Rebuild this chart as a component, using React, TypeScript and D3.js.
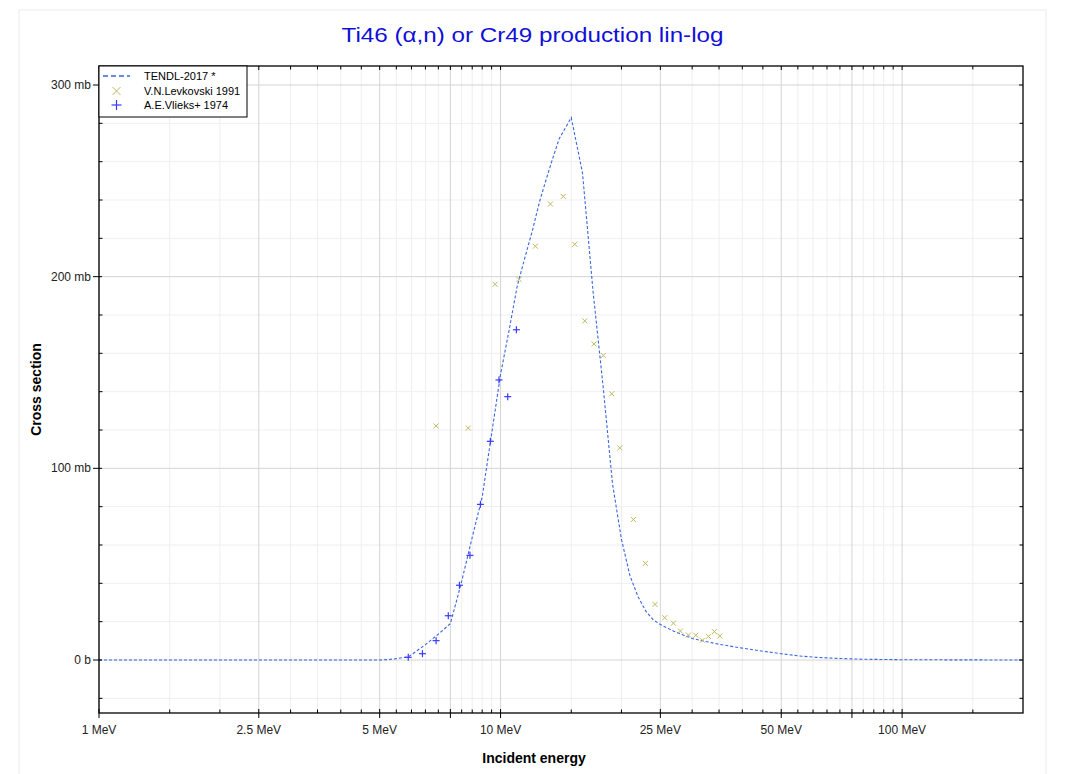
import React from "react";
import * as d3 from "d3";

// ---- data ----
const TENDL_E = [1, 5, 5.25, 5.5, 5.9, 6.5, 7, 7.5, 7.75, 8, 8.5, 9, 9.5, 10, 10.5, 11, 11.5, 12, 12.5, 13, 13.5, 14, 15, 16, 17, 18, 19, 20, 21, 22, 23, 24, 25, 27, 30, 35, 40, 45, 50, 55, 60, 70, 80, 100, 150, 200];
const TENDL_XS = [0, 0, 0.2, 0.7, 1.7, 8, 13.5, 19, 30, 41, 64, 85, 118, 149, 172, 195, 210, 224, 239, 251, 262, 272, 283, 254, 192, 143, 92, 63, 44, 33, 25.5, 21, 18.5, 15, 11.2, 8.2, 6.2, 4.6, 3.3, 2.2, 1.5, 0.8, 0.4, 0.15, 0.05, 0];

const LEV_E = [6.91, 8.31, 9.69, 11.12, 12.21, 13.31, 14.33, 15.3, 16.21, 17.09, 18.03, 18.92, 19.81, 21.42, 22.95, 24.25, 25.64, 26.94, 28.04, 29.36, 30.63, 31.81, 32.93, 34.08, 35.15];
const LEV_XS = [122.1, 121.0, 196.0, 198.6, 215.9, 237.9, 241.9, 216.9, 176.9, 164.9, 158.9, 138.9, 110.7, 73.3, 50.4, 29.0, 22.1, 19.2, 15.1, 13.0, 12.9, 10.3, 12.3, 14.8, 12.5];

const VLI_E = [5.89, 6.39, 6.91, 7.41, 7.9, 8.39, 8.91, 9.43, 9.91, 10.42, 10.95];
const VLI_XS = [1.4, 3.3, 10.1, 23.1, 39.0, 54.6, 81.2, 114.1, 146.1, 137.4, 172.3];

const X_MAJOR = [1, 2.5, 5, 10, 25, 50, 100];
const X_MAJOR_LABELS = ["1 MeV", "2.5 MeV", "5 MeV", "10 MeV", "25 MeV", "50 MeV", "100 MeV"];
const X_MID = [7.5, 75];
const X_MINOR = [1.5, 2, 3, 3.5, 4, 4.5, 5.5, 6, 6.5, 7, 8, 8.5, 9, 9.5, 15, 20, 30, 35, 40, 45, 55, 60, 65, 70, 80, 85, 90, 95, 150];
const Y_MAJOR = [0, 100, 200, 300];
const Y_MAJOR_LABELS = ["0 b", "100 mb", "200 mb", "300 mb"];
const Y_MINOR = [-20, 20, 40, 60, 80, 120, 140, 160, 180, 220, 240, 260, 280];

const LEGEND = ["TENDL-2017 *", "V.N.Levkovski 1991", "A.E.Vlieks+ 1974"];

// ---- layout ----
const W = 1071, H = 774;
const L = 99, R = 1023, T = 66, B = 713;
const FONT = "'Liberation Sans', Arial, Helvetica, sans-serif";
const LINE_C = "#3a66e0";
const LEV_C = "#bfb860";
const VLI_C = "#3a3aff";

export default function App() {
  const x = d3.scaleLog().domain([1, 200]).range([L, R]);
  const y = d3.scaleLinear().domain([0, 300]).range([660, 85]);

  const tendl = TENDL_E.map((e, i) => [e, TENDL_XS[i]] as [number, number]);
  const lineGen = d3.line<[number, number]>().x(d => x(d[0])).y(d => y(d[1]));

  const xCross = (cx: number, cy: number, s: number, c: string, k: string) => (
    <g key={k} stroke={c} strokeWidth={1}>
      <line x1={cx - s} y1={cy - s} x2={cx + s} y2={cy + s} />
      <line x1={cx - s} y1={cy + s} x2={cx + s} y2={cy - s} />
    </g>
  );
  const plus = (cx: number, cy: number, s: number, c: string, k: string) => (
    <g key={k} stroke={c} strokeWidth={1.2}>
      <line x1={cx - s} y1={cy} x2={cx + s} y2={cy} />
      <line x1={cx} y1={cy - s} x2={cx} y2={cy + s} />
    </g>
  );

  return (
    <svg width={W} height={H} style={{ position: "absolute", left: 0, top: 0, background: "#fff" }} fontFamily={FONT}>
      <defs>
        <clipPath id="plot">
          <rect x={L} y={T} width={R - L} height={B - T} />
        </clipPath>
      </defs>
      <rect x={19} y={10} width={1027} height={800} fill="#fff" stroke="#ececec" />

      <text x={532.5} y={42} textAnchor="middle" fontSize={21} fill="#1010d8" textLength={382} lengthAdjust="spacingAndGlyphs">Ti46 (α,n) or Cr49 production lin-log</text>

      {/* grid */}
      <g>
        {X_MINOR.map(v => <line key={"gx" + v} x1={x(v)} x2={x(v)} y1={T} y2={B} stroke="#efefef" />)}
        {Y_MINOR.map(v => <line key={"gy" + v} x1={L} x2={R} y1={y(v)} y2={y(v)} stroke="#efefef" />)}
        {[...X_MAJOR, ...X_MID].map(v => <line key={"GX" + v} x1={x(v)} x2={x(v)} y1={T} y2={B} stroke="#d4d4d4" />)}
        {Y_MAJOR.map(v => <line key={"GY" + v} x1={L} x2={R} y1={y(v)} y2={y(v)} stroke="#d4d4d4" />)}
      </g>

      {/* data */}
      <g clipPath="url(#plot)">
        <path d={lineGen(tendl) || ""} fill="none" stroke={LINE_C} strokeWidth={1.1} strokeDasharray="3,2" />
        {LEV_E.map((e, i) => xCross(x(e), y(LEV_XS[i]), 2.5, LEV_C, "l" + i))}
        {VLI_E.map((e, i) => plus(x(e), y(VLI_XS[i]), 3.5, VLI_C, "v" + i))}
      </g>

      {/* frame */}
      <rect x={L} y={T} width={R - L} height={B - T} fill="none" stroke="#000" strokeWidth={1.3} />

      {/* ticks */}
      <g stroke="#000">
        {X_MINOR.map(v => <line key={"bt" + v} x1={x(v)} x2={x(v)} y1={B - 3.5} y2={B} />)}
        {[...X_MAJOR, ...X_MID].map(v => <line key={"BT" + v} x1={x(v)} x2={x(v)} y1={B - 4} y2={B + 5} />)}
        {X_MINOR.map(v => <line key={"tt" + v} x1={x(v)} x2={x(v)} y1={T} y2={T + 3.5} />)}
        {[...X_MAJOR, ...X_MID].map(v => <line key={"TT" + v} x1={x(v)} x2={x(v)} y1={T} y2={T + 4} />)}
        {Y_MINOR.map(v => <line key={"lt" + v} x1={L} x2={L + 3.5} y1={y(v)} y2={y(v)} />)}
        {Y_MAJOR.map(v => <line key={"LT" + v} x1={L - 6} x2={L + 3} y1={y(v)} y2={y(v)} />)}
        {Y_MINOR.map(v => <line key={"rt" + v} x1={R - 3.5} x2={R} y1={y(v)} y2={y(v)} />)}
        {Y_MAJOR.map(v => <line key={"RT" + v} x1={R - 4} x2={R} y1={y(v)} y2={y(v)} />)}
      </g>
      {X_MAJOR.map((v, i) => (
        <text key={"xl" + v} x={x(v)} y={734} textAnchor="middle" fontSize={12} fill="#222">{X_MAJOR_LABELS[i]}</text>
      ))}
      {Y_MAJOR.map((v, i) => (
        <text key={"yl" + v} x={91} y={y(v) + 4} textAnchor="end" fontSize={12} fill="#222">{Y_MAJOR_LABELS[i]}</text>
      ))}

      <text x={534} y={763} textAnchor="middle" fontSize={14} fontWeight="bold" fill="#000">Incident energy</text>
      <text transform={`translate(41,${(T + B) / 2}) rotate(-90)`} textAnchor="middle" fontSize={14} fontWeight="bold" fill="#000">Cross section</text>

      {/* legend */}
      <g>
        <rect x={L} y={T} width={148} height={51} fill="#fff" stroke="#000" strokeWidth={1} />
        <line x1={103} x2={130} y1={76} y2={76} stroke={LINE_C} strokeWidth={1.5} strokeDasharray="5,3" />
        {xCross(116.5, 91, 4, LEV_C, "lg1")}
        {plus(116.5, 105, 5, VLI_C, "lg2")}
        {LEGEND.map((t, i) => (
          <text key={t} x={144} y={80 + i * 14.5} fontSize={11} fill="#000">{t}</text>
        ))}
      </g>
    </svg>
  );
}
